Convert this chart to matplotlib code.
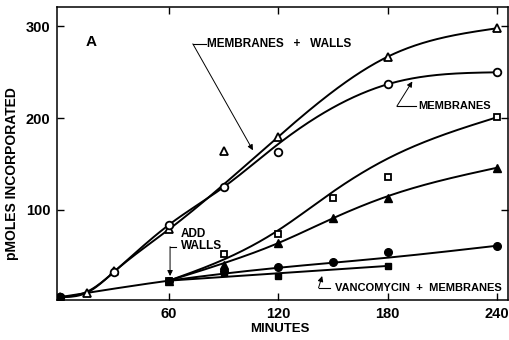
import matplotlib
matplotlib.use("Agg")
import matplotlib.pyplot as plt
import numpy as np

plt.rcParams['font.family'] = ['Liberation Sans', 'DejaVu Sans']
plt.rcParams['font.weight'] = 'bold'

# membranes + walls (open triangles)
mw_min = [0, 15, 30, 60, 90, 120, 180, 240]
mw_pmol = [5, 10, 33, 79, 164, 180, 267, 298]
mw_curve_min = [0, 15, 30, 60, 120, 180, 240]
mw_curve = [5, 10, 33, 79, 180, 267, 298]

# membranes (open circles)
m_min = [0, 30, 60, 90, 120, 180, 240]
m_pmol = [5, 32, 84, 125, 163, 237, 250]
m_curve_min = [0, 15, 30, 60, 90, 120, 180, 240]
m_curve = [5, 11, 33, 84, 125, 172, 237, 250]

# walls added at 60 min (open squares)
sq_o_min = [60, 90, 120, 150, 180, 240]
sq_o_pmol = [23, 52, 74, 113, 136, 201]
sq_o_curve_min = [60, 90, 120, 150, 180, 240]
sq_o_curve = [23, 46, 78, 120, 156, 201]

# filled triangles
tri_f_min = [60, 90, 120, 150, 180, 240]
tri_f_pmol = [23, 40, 64, 91, 113, 146]
tri_f_curve_min = [60, 90, 120, 150, 180, 240]
tri_f_curve = [23, 42, 64, 91, 115, 146]

# filled circles
circ_f_min = [0, 60, 90, 120, 150, 180, 240]
circ_f_pmol = [5, 23, 34, 38, 43, 54, 61]
circ_f_curve_min = [0, 60, 120, 180, 240]
circ_f_curve = [5, 23, 37, 48, 61]

# vancomycin + membranes (filled squares)
sq_f_min = [0, 60, 90, 120, 180]
sq_f_pmol = [5, 23, 31, 27.5, 39]
sq_f_curve_min = [60, 180]
sq_f_curve = [23, 39]


def smooth(x, y, n=300):
    # natural cubic spline through the points
    x = np.asarray(x, float)
    y = np.asarray(y, float)
    h = np.diff(x)
    d = np.diff(y) / h
    k = len(x)
    M = np.zeros(k)
    if k > 2:
        A = np.zeros((k - 2, k - 2))
        b = 6 * (d[1:] - d[:-1])
        for i in range(k - 2):
            A[i, i] = 2 * (h[i] + h[i + 1])
            if i > 0:
                A[i, i - 1] = h[i]
            if i < k - 3:
                A[i, i + 1] = h[i + 1]
        M[1:-1] = np.linalg.solve(A, b)
    xs = np.linspace(x[0], x[-1], n)
    i = np.clip(np.searchsorted(x, xs) - 1, 0, k - 2)
    a = x[i + 1] - xs
    c = xs - x[i]
    hi = h[i]
    ys = (M[i] * a**3 / (6 * hi) + M[i + 1] * c**3 / (6 * hi)
          + (y[i] / hi - M[i] * hi / 6) * a + (y[i + 1] / hi - M[i + 1] * hi / 6) * c)
    return xs, ys


fig = plt.figure(figsize=(5.1, 3.4), dpi=100)
ax = fig.add_axes([0.112, 0.118, 0.884, 0.861])

lw = 1.4
for cx, cy in [(mw_curve_min, mw_curve), (m_curve_min, m_curve),
               (sq_o_curve_min, sq_o_curve), (tri_f_curve_min, tri_f_curve),
               (circ_f_curve_min, circ_f_curve), (sq_f_curve_min, sq_f_curve)]:
    xs, ys = smooth(cx, cy)
    ax.plot(xs, ys, color='black', lw=lw, zorder=2)

ms = 5.5
ax.plot(mw_min, mw_pmol, ls='none', marker='^', ms=ms, mfc='white', mec='black', mew=1.3, zorder=3)
ax.plot(m_min, m_pmol, ls='none', marker='o', ms=ms, mfc='white', mec='black', mew=1.3, zorder=3)
ax.plot(sq_o_min, sq_o_pmol, ls='none', marker='s', ms=ms - 0.5, mfc='white', mec='black', mew=1.3, zorder=3)
ax.plot(tri_f_min, tri_f_pmol, ls='none', marker='^', ms=ms, color='black', zorder=3)
ax.plot(circ_f_min, circ_f_pmol, ls='none', marker='o', ms=ms, color='black', zorder=3)
ax.plot(sq_f_min, sq_f_pmol, ls='none', marker='s', ms=ms - 0.5, color='black', zorder=3)

ax.set_xlim(-1.5, 246)
ax.set_ylim(2, 321)
ax.set_xticks([60, 120, 180, 240])
ax.set_yticks([100, 200, 300])
ax.tick_params(direction='in', length=5, width=1, top=True, right=True,
               labelsize=10.5, pad=5)
for s in ax.spines.values():
    s.set_linewidth(1.1)

ax.set_xlabel('MINUTES', fontsize=9.5, fontweight='bold')
ax.xaxis.set_label_coords(0.494, -0.08)
ax.set_ylabel('pMOLES INCORPORATED', fontsize=10, fontweight='bold')
ax.yaxis.set_label_coords(-0.085, 0.43)

txt = dict(fontsize=8, fontweight='bold', va='center', ha='left')
arrow = dict(arrowstyle='-|>', lw=0.7, color='black', mutation_scale=8,
             shrinkA=0, shrinkB=0)

ax.text(17, 283, 'A', fontsize=11, fontweight='bold', va='center', ha='center')

ax.text(81, 281, 'MEMBRANES   +   WALLS', fontsize=8.5, fontweight='bold',
        va='center', ha='left')
ax.plot([73, 80], [281, 281], color='black', lw=0.8)
ax.annotate('', xy=(106, 165), xytext=(73, 281), arrowprops=arrow)

ax.text(196.5, 213, 'MEMBRANES', **txt)
ax.plot([185, 195.5], [213, 213], color='black', lw=0.8)
ax.annotate('', xy=(193.5, 240), xytext=(185, 213), arrowprops=arrow)

ax.text(66.5, 67.5, 'ADD\nWALLS', linespacing=1.0, fontsize=8.5,
        fontweight='bold', va='center', ha='left')
ax.plot([60.5, 64], [60, 60], color='black', lw=0.8)
ax.annotate('', xy=(60.5, 28), xytext=(60.5, 60), arrowprops=arrow)

ax.text(151, 15, 'VANCOMYCIN  +  MEMBRANES', **txt)
ax.plot([142, 148.5], [15, 15], color='black', lw=0.8)
ax.annotate('', xy=(144, 28), xytext=(142, 15), arrowprops=arrow)

fig.savefig('out.png', dpi=100)
